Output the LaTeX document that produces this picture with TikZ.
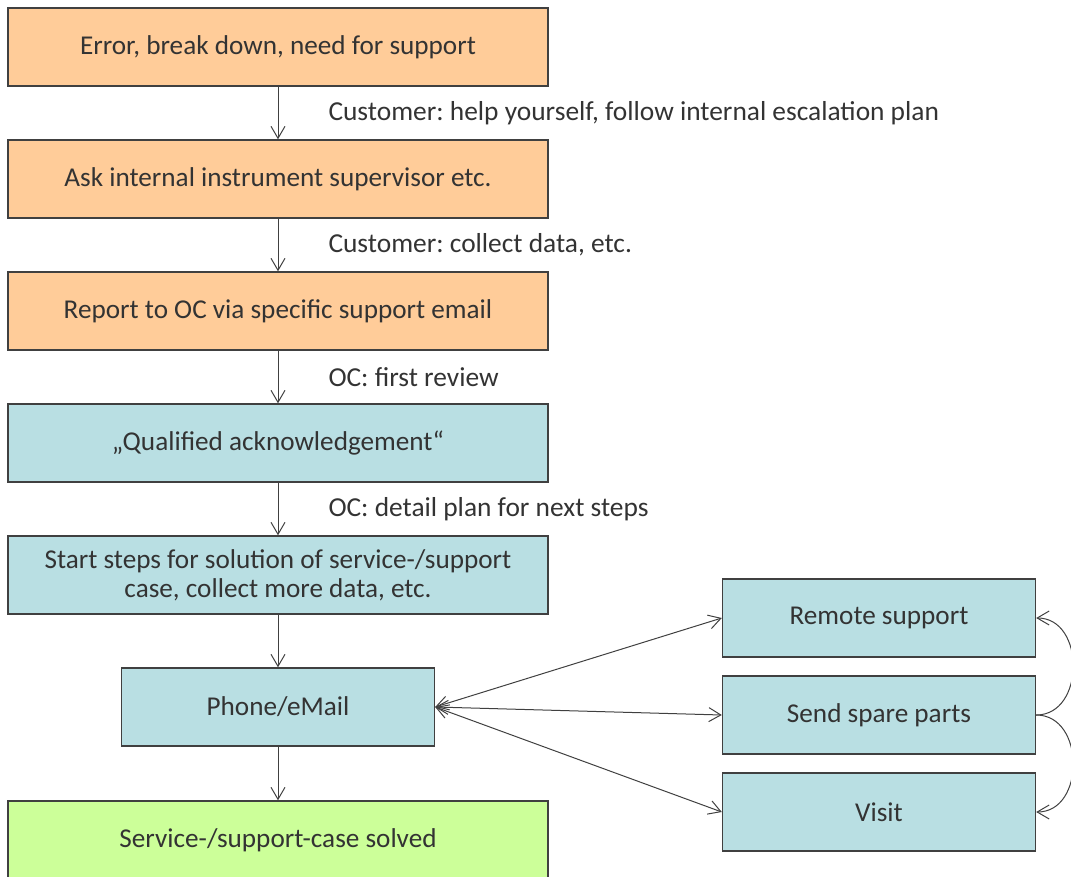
\documentclass[tikz,border=0pt]{standalone}
\usepackage{fontspec}
\setmainfont{Carlito}
\usetikzlibrary{arrows.meta}
\definecolor{peach}{HTML}{FFCC99}
\definecolor{teal}{HTML}{B9DFE3}
\definecolor{lime}{HTML}{CCFF99}
\definecolor{edge}{HTML}{404040}
\definecolor{ink}{HTML}{333333}
\frenchspacing
\begin{document}
\begin{tikzpicture}[x=0.5pt, y=-0.5pt,
        box/.style={rectangle, draw=edge, line width=0.7pt, minimum width=270pt, minimum height=39pt,
            inner sep=2pt, align=center, text=ink, font=\fontsize{13.6}{14.5}\selectfont},
        side/.style={box, minimum width=156.5pt},
        lbl/.style={anchor=west, xshift=25pt, text=ink, inner sep=0pt, font=\fontsize{13.7}{14.5}\selectfont},
        arr/.style={draw=edge, line width=0.5pt, -{Straight Barb[length=6pt, width=7pt]}},
        darr/.style={arr, {Straight Barb[length=6pt, width=7pt]}-{Straight Barb[length=6pt, width=7pt]}}
    ]
    \useasboundingbox (0,0) rectangle (1071,877);
    % main column
    \node[box, fill=peach] (error) at (278,47) {Error, break down, need for support};
    \node[box, fill=peach] (ask) at (278,179) {Ask internal instrument supervisor etc.};
    \node[box, fill=peach] (report) at (278,311) {Report to OC via specific support email};
    \node[box, fill=teal] (ack) at (278,443) {„Qualified acknowledgement“};
    \node[box, fill=teal] (start) at (278,575) {Start steps for solution of service-/support\\case, collect more data, etc.};
    \node[box, fill=teal, minimum width=156.5pt] (phone) at (278,707) {Phone/eMail};
    \node[box, fill=lime] (solved) at (278,840) {Service-/support-case solved};
    % options on the right
    \node[side, fill=teal] (remote) at (879,618) {Remote support};
    \node[side, fill=teal] (spare) at (879,715) {Send spare parts};
    \node[side, fill=teal] (visit) at (879,812) {Visit};

    \draw[arr] (error) -- node[lbl] {Customer: help yourself, follow internal escalation plan} (ask);
    \draw[arr] (ask) -- node[lbl] {Customer: collect data, etc.} (report);
    \draw[arr] (report) -- node[lbl] {OC: first review} (ack);
    \draw[arr] (ack) -- node[lbl] {OC: detail plan for next steps} (start);
    \draw[arr] (start) -- (phone);
    \draw[arr] (phone) -- (solved);
    \draw[darr] (phone.east) -- (remote.west);
    \draw[darr] (phone.east) -- (spare.west);
    \draw[darr] (phone.east) -- (visit.west);
    \draw[arr] (spare.east) to[out=0, in=0, looseness=1.3] (remote.east);
    \draw[arr] (spare.east) to[out=0, in=0, looseness=1.3] (visit.east);
\end{tikzpicture}
\end{document}
